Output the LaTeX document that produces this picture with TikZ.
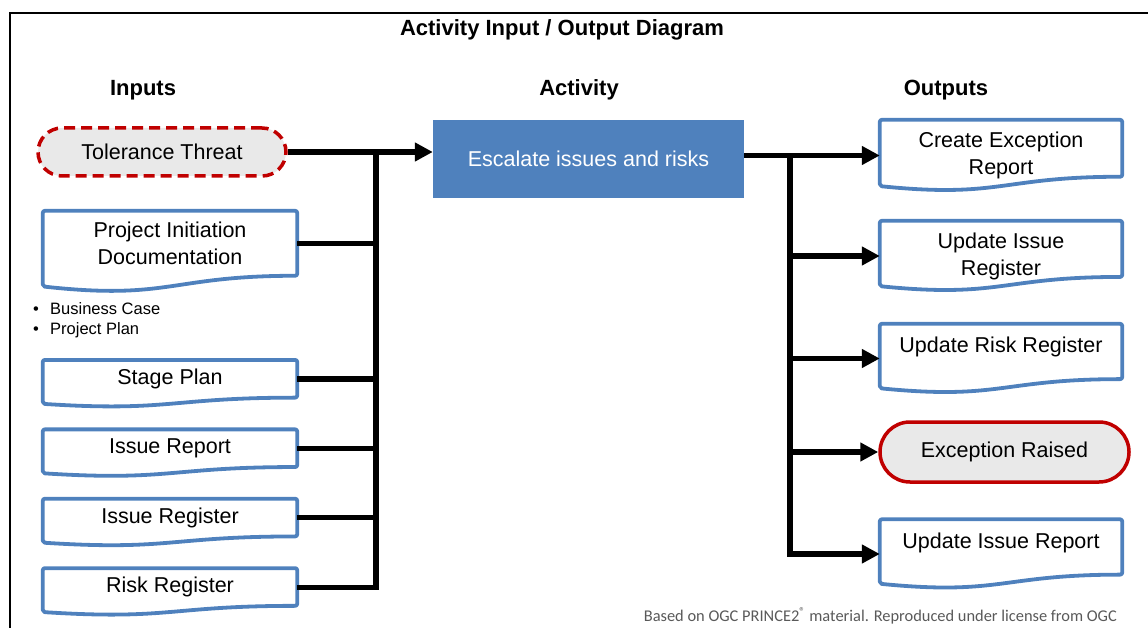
\documentclass[tikz,border=0pt]{standalone}
\usepackage{fontspec}
\setmainfont{Liberation Sans}
\newfontfamily\notefont{Carlito}
\usepackage{tikz}
\usetikzlibrary{arrows.meta,positioning,calc}
\definecolor{docblue}{HTML}{4F81BD}
\definecolor{evred}{HTML}{C00000}
\definecolor{evfill}{HTML}{E9E9E9}
\definecolor{notegrey}{HTML}{595959}

% document outline with a wavy foot, #2 = full height
\newcommand{\docshape}[2]{%
  \draw[docline] let \p1=(#1.north west), \p2=(#1.north east) in
    (\p1) -- (\p2) -- (\x2,\y1-0.802*#2pt)
    .. controls ({(\x1+\x2)/2},\y1-0.802*#2pt) and ({(\x1+\x2)/2},\y1-1.107*#2pt) ..
    (\x1,\y1-0.934*#2pt) -- cycle;}

\begin{document}
\begin{tikzpicture}[x=1pt,y=-1pt,>={Triangle[length=18pt,width=18pt]},
    every node/.style={font=\fontsize{21.5}{27}\selectfont},
    heading/.style={font=\fontsize{22}{26}\selectfont\bfseries},
    event/.style={draw=evred,line width=3.5pt,fill=evfill,inner sep=0pt},
    doc/.style={align=center,inner sep=0pt},
    docline/.style={draw=docblue,line width=3.8pt,rounded corners=2pt,line join=round},
    bus/.style={line width=5.2pt}]
    \useasboundingbox (0,0) rectangle (1148,628);
    \draw[line width=2.5pt] (10,628) -- (10,13) -- (1148,13);

    \node[heading] (title) at (562,30) {Activity Input / Output Diagram};
    \node[heading] (hin) at (143,90) {Inputs};
    \node[heading] (hact) at (579,90) {Activity};
    \node[heading] (hout) at (946,90) {Outputs};

    % inputs
    \node[event,dash pattern=on 11pt off 6pt,rounded corners=24pt,
          minimum width=248pt,minimum height=48pt] (tol) at (162,152) {Tolerance Threat};
    \node[doc,minimum width=254pt,minimum height=65pt] (pid) at (170,243.5)
        {Project Initiation\\Documentation};
    \node[anchor=west,inner sep=0pt,align=left,font=\fontsize{16.5}{20}\selectfont]
        (pidlist) at (33,320)
        {\makebox[17pt][l]{\textbullet}Business Case\\\makebox[17pt][l]{\textbullet}Project Plan};
    \node[doc,minimum width=254pt,minimum height=37.7pt] (stage) at (170,379) {Stage Plan};
    \node[doc,minimum width=254pt,minimum height=37.7pt,below=31.3pt of stage] (irep) {Issue Report};
    \node[doc,minimum width=254pt,minimum height=37.7pt,below=31.3pt of irep] (ireg) {Issue Register};
    \node[doc,minimum width=254pt,minimum height=37.7pt,below=31.3pt of ireg] (risk) {Risk Register};

    % activity
    \node[fill=docblue,text=white,minimum width=311pt,minimum height=78pt,inner sep=0pt]
        (act) at (588.5,159) {Escalate issues and risks};

    % outputs
    \node[doc,minimum width=242pt,minimum height=71pt] (cer) at (1001,155.5)
        {Create Exception\\Report};
    \node[doc,minimum width=242pt,minimum height=70pt] (uir) at (1001,256)
        {Update Issue\\Register};
    \node[doc,minimum width=242pt,minimum height=69pt] (urr) at (1001,358.5)
        {Update Risk Register\\~};
    \node[event,rounded corners=30pt,minimum width=249pt,minimum height=60pt]
        (exr) at (1004.5,452) {Exception Raised};
    \node[doc,minimum width=242pt,minimum height=69pt] (uirep) at (1001,554)
        {Update Issue Report\\~};

    \foreach \d/\h in {pid/81,stage/47,irep/47,ireg/47,risk/47,cer/71,uir/70,urr/69,uirep/69}
        \docshape{\d}{\h};

    % connectors
    \coordinate (inbus) at (376,0);
    \coordinate (outbus) at (790,0);
    \draw[bus,->] (tol) -- (tol -| act.west);
    \foreach \d in {pid,stage,irep,ireg}
        \draw[bus] (\d.east) -- (\d.east -| inbus);
    \draw[bus] (risk.east) -| (inbus |- tol);
    \draw[bus,->] (act.east |- cer) -- (cer.west);
    \foreach \d in {uir,urr,exr}
        \draw[bus,->] (outbus |- \d.west) -- (\d.west);
    \draw[bus,->] (outbus |- cer) |- (uirep.west);

    \node[anchor=east,inner sep=0pt,text=notegrey,font=\notefont\fontsize{16.4}{19}\selectfont]
        (note) at (1117,616)
        {Based on OGC PRINCE2\textsuperscript{\textregistered} material. Reproduced under license from OGC};
\end{tikzpicture}
\end{document}
